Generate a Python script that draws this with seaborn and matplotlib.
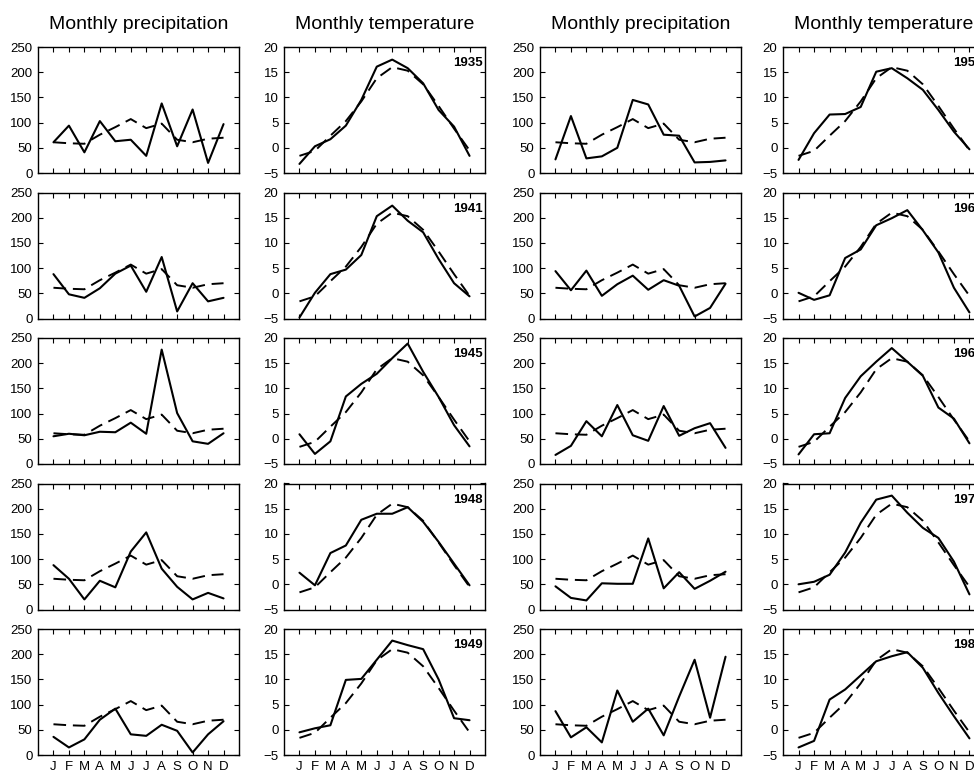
import matplotlib
matplotlib.use("Agg")
import matplotlib.pyplot as plt
import seaborn as sns
import pandas as pd

# 样式
sns.set_style("ticks")
plt.rcParams['font.family'] = ['Liberation Sans', 'DejaVu Sans']
plt.rcParams['axes.linewidth'] = 1.0
plt.rcParams['text.color'] = 'black'
plt.rcParams['axes.edgecolor'] = 'black'
plt.rcParams['xtick.color'] = 'black'
plt.rcParams['ytick.color'] = 'black'
plt.rcParams['axes.labelcolor'] = 'black'

# 数据
months = ['J', 'F', 'M', 'A', 'M', 'J', 'J', 'A', 'S', 'O', 'N', 'D']
month_idx = list(range(1, 13))

# 多年平均（虚线）
precip_mean = [61, 59, 58, 76, 91, 107, 89, 98, 66, 61, 68, 70]
temp_mean = [-1.6, -0.6, 2.4, 5.3, 9.2, 13.8, 16.0, 15.3, 12.6, 8.3, 3.8, -0.5]

# 左半部分
precip_1935 = [61, 94, 41, 103, 63, 66, 34, 138, 53, 126, 20, 97]
temp_1935 = [-3.2, 0.3, 1.7, 4.4, 9.5, 16.1, 17.5, 15.8, 12.8, 7.5, 4.2, -1.6]
precip_1941 = [88, 48, 41, 60, 89, 105, 53, 122, 14, 70, 34, 41]
temp_1941 = [-4.8, 0.1, 3.8, 4.7, 7.6, 15.3, 17.4, 14.4, 12.1, 6.8, 2.0, -0.6]
precip_1945 = [55, 60, 57, 64, 63, 82, 60, 227, 101, 45, 40, 61]
temp_1945 = [0.9, -3.0, -0.5, 8.4, 10.9, 12.9, 16.0, 18.9, 13.3, 8.3, 2.7, -1.5]
precip_1948 = [88, 61, 20, 57, 44, 115, 153, 81, 45, 20, 33, 22]
temp_1948 = [2.3, -0.2, 6.2, 7.7, 12.8, 14.0, 14.0, 15.3, 12.4, 8.4, 4.1, -0.2]
precip_1949 = [36, 15, 31, 70, 92, 41, 38, 60, 48, 5, 41, 67]
temp_1949 = [-0.5, 0.3, 0.9, 9.9, 10.1, 13.9, 17.7, 16.8, 16.0, 10.0, 2.3, 1.9]

# 右半部分（年份被裁剪）
precip_1955 = [27, 113, 29, 33, 50, 145, 136, 76, 74, 21, 22, 25]
temp_1955 = [-2.4, 2.9, 6.6, 6.7, 8.1, 15.1, 15.8, 13.8, 11.5, 7.5, 3.2, -0.3]
precip_1962 = [94, 56, 95, 45, 68, 85, 57, 76, 65, 4, 21, 69]
temp_1962 = [0.1, -1.3, -0.4, 7.0, 8.7, 13.5, 14.9, 16.5, 12.5, 8.1, 1.1, -3.8]
precip_1966 = [18, 36, 85, 55, 117, 57, 46, 115, 56, 71, 81, 32]
temp_1966 = [-3.1, 0.9, 1.1, 8.1, 12.4, 15.3, 18.0, 15.3, 12.5, 6.2, 4.0, -0.9]
precip_1975 = [46, 23, 18, 52, 51, 51, 141, 42, 74, 41, 57, 75]
temp_1975 = [0.0, 0.5, 1.9, 6.3, 12.2, 16.8, 17.6, 14.2, 11.2, 9.2, 4.5, -2.0]
precip_1985 = [87, 35, 55, 25, 128, 66, 92, 39, 116, 189, 74, 195]
temp_1985 = [-3.5, -2.2, 6.0, 8.0, 10.8, 13.6, 14.6, 15.4, 12.3, 7.3, 2.7, -1.7]

left_years = [1935, 1941, 1945, 1948, 1949]
right_years = [1955, 1962, 1966, 1975, 1985]
left_precip = [precip_1935, precip_1941, precip_1945, precip_1948, precip_1949]
left_temp = [temp_1935, temp_1941, temp_1945, temp_1948, temp_1949]
right_precip = [precip_1955, precip_1962, precip_1966, precip_1975, precip_1985]
right_temp = [temp_1955, temp_1962, temp_1966, temp_1975, temp_1985]

W, H = 974, 772
fig = plt.figure(figsize=(W / 100, H / 100), dpi=100)

col_left = [38, 284, 540, 783]
ax_w = 201
row_top = [47, 192.5, 338, 483.5, 629]
ax_h = 126

dash = (0, (6.5, 3.5))


def draw_panel(ax, values, mean, kind, year, bottom):
    df = pd.DataFrame({'month': month_idx, 'value': values, 'mean': mean})
    sns.lineplot(data=df, x='month', y='mean', ax=ax, color='black',
                 lw=1.4, linestyle=dash)
    sns.lineplot(data=df, x='month', y='value', ax=ax, color='black', lw=1.5)
    ax.set_xlim(0, 13)
    ax.set_xticks(month_idx)
    if kind == 'precip':
        ax.set_ylim(0, 250)
        ax.set_yticks([0, 50, 100, 150, 200, 250])
    else:
        ax.set_ylim(-5, 20)
        ax.set_yticks([-5, 0, 5, 10, 15, 20])
        ax.text(0.99, 0.92, str(year), transform=ax.transAxes, ha='right',
                va='top', fontsize=9.5, fontweight='bold')
    if bottom:
        ax.set_xticklabels(months)
    else:
        ax.set_xticklabels([])
    ax.set_xlabel('')
    ax.set_ylabel('')
    ax.tick_params(direction='in', top=True, right=True, length=3.5,
                   width=0.8, labelsize=9.5, pad=4, colors='black')
    for s in ax.spines.values():
        s.set_visible(True)
        s.set_linewidth(1.0)
        s.set_color('black')


for r in range(5):
    panels = [
        (left_precip[r], precip_mean, 'precip', left_years[r]),
        (left_temp[r], temp_mean, 'temp', left_years[r]),
        (right_precip[r], precip_mean, 'precip', right_years[r]),
        (right_temp[r], temp_mean, 'temp', right_years[r]),
    ]
    for c, (vals, mean, kind, year) in enumerate(panels):
        w = ax_w + (1 if c == 3 else 0)
        ax = fig.add_axes([col_left[c] / W, 1 - (row_top[r] + ax_h) / H,
                           w / W, ax_h / H])
        draw_panel(ax, vals, mean, kind, year, r == 4)
        if r == 0:
            title = 'Monthly precipitation' if kind == 'precip' else 'Monthly temperature'
            ax.set_title(title, fontsize=14, pad=13)

fig.savefig('out.png', dpi=100)
